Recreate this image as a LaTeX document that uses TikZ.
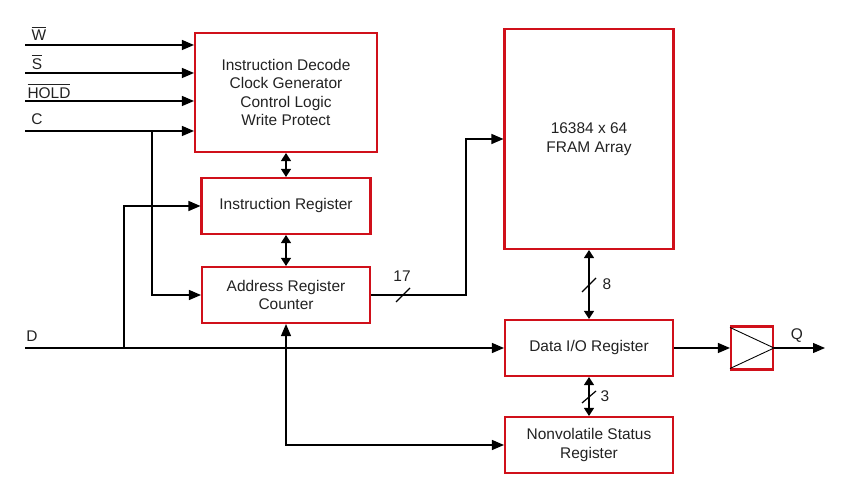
\documentclass[tikz,border=0pt]{standalone}
\usepackage{fontspec}
\setmainfont{Liberation Sans}
\usetikzlibrary{arrows.meta,positioning,calc}
\definecolor{boxred}{RGB}{208,16,26}
\definecolor{txtgray}{RGB}{34,34,34}

\begin{document}
\begin{tikzpicture}[x=0.02cm,y=-0.02cm,>={Triangle[length=2.4mm,width=2mm]},font=\fontsize{8.8}{10.6}\selectfont,text=txtgray,line width=0.7pt]
\tikzstyle{blk}=[draw=boxred,line width=1.2pt,inner sep=0pt,align=center]
\tikzstyle{lbl}=[inner sep=0pt]
\tikzstyle{bus}=[{Triangle[length=1.6mm,width=2mm]}-{Triangle[length=1.6mm,width=2mm]}]
\useasboundingbox (0,0) rectangle (862,499);
% blocks
\node[blk,minimum width=3.64cm,minimum height=2.38cm] (dec) at (286,92.5) {Instruction Decode\\Clock Generator\\Control Logic\\Write Protect};
\node[blk,minimum width=3.38cm,minimum height=1.12cm] (ir) at (286,206) {Instruction Register};
\node[blk,minimum width=3.36cm,minimum height=1.12cm] (arc) at (286,295) {Address Register\\Counter};
\node[blk,minimum width=3.38cm,minimum height=4.4cm] (fram) at (589,139) {16384 x 64\\FRAM Array};
\node[blk,minimum width=3.36cm,minimum height=1.12cm] (dio) at (589,348) {Data I/O Register};
\node[blk,minimum width=3.36cm,minimum height=1.12cm] (nvsr) at (589,445) {Nonvolatile Status\\Register};
\node[blk,minimum width=0.84cm,minimum height=0.86cm] (buf) at (752,348) {};
\draw[line width=0.5pt] ($(buf.north west)+(0,2)$) -- (buf.east) -- ($(buf.south west)+(0,-2)$);
% inputs
\coordinate (wIn) at (25,45); \coordinate (sIn) at (25,73); \coordinate (hIn) at (25,101); \coordinate (cIn) at (25,131);
\coordinate (dIn) at (25,348); \coordinate (cTap) at (152,131); \coordinate (dTap) at (124,348); \coordinate (qOut) at (825,348);
\node[lbl] (wLbl) at (39,33) {$\overline{\hbox{W}}$}; \node[lbl] (sLbl) at (37,62) {$\overline{\hbox{S}}$};
\node[lbl] (hLbl) at (49,91) {$\overline{\hbox{HOLD}}$}; \node[lbl] (cLbl) at (37,119) {C};
\node[lbl] (dLbl) at (32,336) {D}; \node[lbl] (qLbl) at (797,336) {Q};
\draw[->] (wIn) -- (wIn -| dec.west); \draw[->] (sIn) -- (sIn -| dec.west); \draw[->] (hIn) -- (hIn -| dec.west); \draw[->] (cIn) -- (cIn -| dec.west);
\draw[->] (cTap) |- (arc.west); \draw[->] (dIn) -- (dio.west); \draw[->] (dTap) |- (ir.west);
% internal buses
\draw[bus] (dec) -- (ir); \draw[bus] (ir) -- (arc); \draw[<->] (arc.south) |- (nvsr.west);
\draw[->] (arc.east) -- ++(95,0) |- (fram.west);
\draw (403,295) ++(-7,7) -- ++(14,-14); \node[lbl] (n17) at (402,276) {17};
\draw[bus] (fram) -- (dio); \draw (589,285) ++(-7,7) -- ++(14,-14); \node[lbl] (n8) at (607,284) {8};
\draw[bus] (dio) -- (nvsr); \draw (589,397) ++(-7,6) -- ++(14,-12); \node[lbl] (n3) at (605,396) {3};
\draw[->] (dio) -- (buf); \draw[->] (buf.east) -- (qOut);
\end{tikzpicture}
\end{document}
